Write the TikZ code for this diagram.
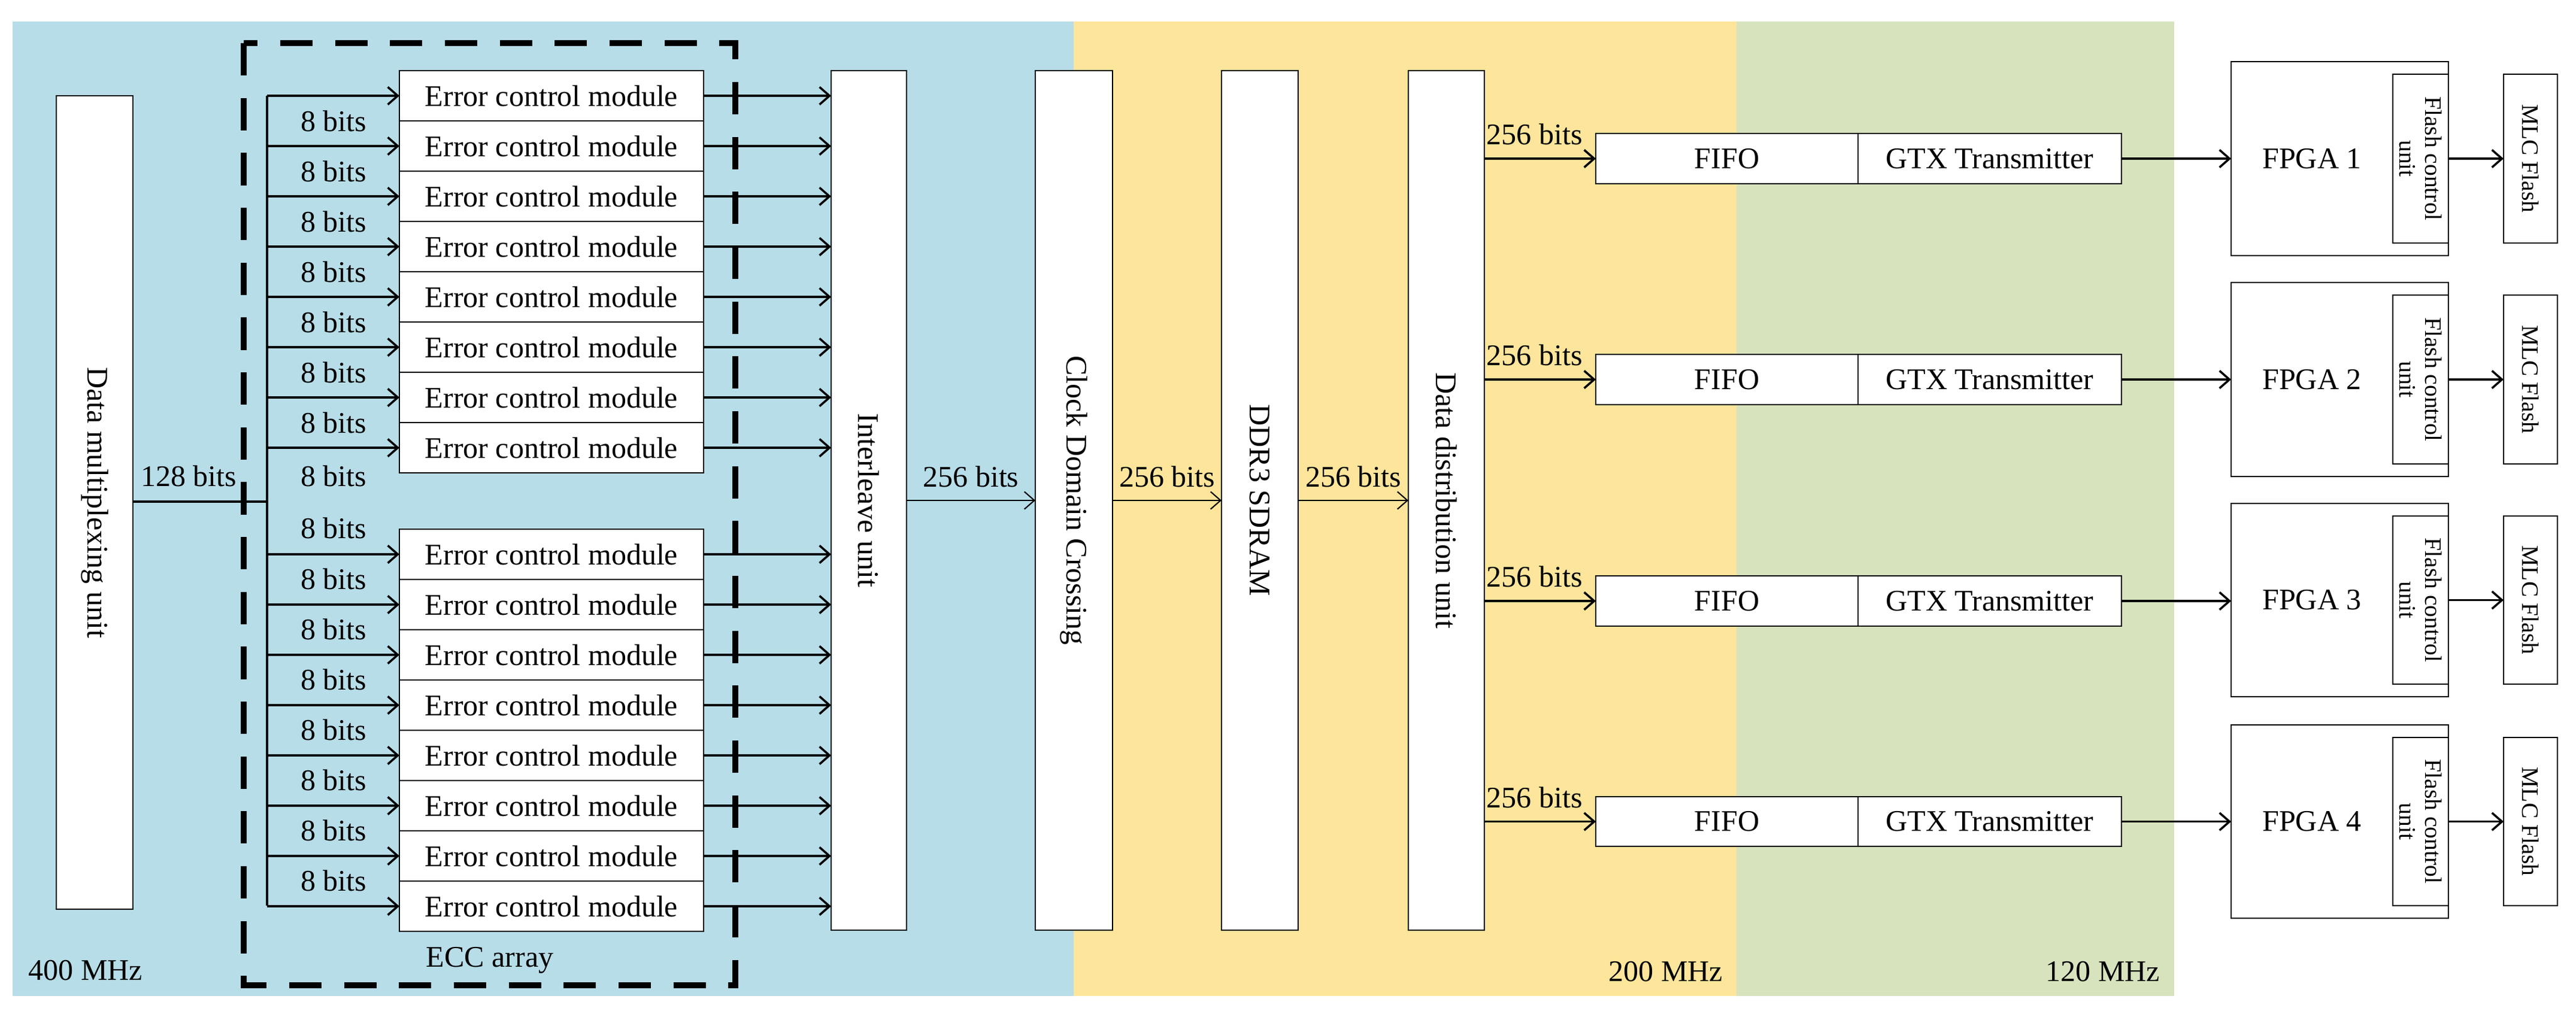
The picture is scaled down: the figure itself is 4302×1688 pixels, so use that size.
\documentclass[tikz,border=0pt]{standalone}
\usepackage{fontspec}
\setmainfont{Liberation Serif}
\usetikzlibrary{arrows.meta,calc}
\definecolor{bgblue}{RGB}{183,221,232}
\definecolor{bgyellow}{RGB}{253,229,155}
\definecolor{bggreen}{RGB}{214,227,189}
\tikzset{
  box/.style={draw,fill=white,line width=0.45pt,inner sep=0pt,outer sep=0pt},
  arr/.style={line width=0.85pt,-{Straight Barb[length=4pt,width=7pt,line width=0.85pt]}},
  arrthin/.style={line width=0.5pt,-{Straight Barb[length=4pt,width=7pt,line width=0.5pt]}},
  lbl/.style={inner sep=0pt},
  vtext/.style={rotate=-90},
}
\newcommand\bx[7][]{\node[box,#1,minimum width={(#4-#2)*0.24pt},minimum height={(#5-#3)*0.24pt}] (#7) at ({(#2+#4)/2},{(#3+#5)/2}) {#6};}
\begin{document}
\begin{tikzpicture}[x=0.24pt,y=-0.24pt,font=\fontsize{12}{14}\selectfont]
\useasboundingbox (0,0) rectangle (4302,1688);
\fill[white] (0,0) rectangle (4302,1688);
\fill[bgblue] (21,36) rectangle (1793,1664);
\fill[bgyellow] (1793,36) rectangle (2900,1664);
\fill[bggreen] (2900,36) rectangle (3631,1664);
% dashed ECC array
\draw[line width=2.2pt,dash pattern=on 13pt off 9pt] (407,72) rectangle (1228,1646);
\node[lbl] (ecc) at (818,1604) {ECC array};
\node[lbl] (f400) at (143,1621) {400 MHz};
\node[lbl] (f200) at (2782,1623) {200 MHz};
\node[lbl] (f120) at (3512,1623) {120 MHz};
% data multiplexing
\bx{94}{160}{222}{1519}{}{dmu}
\node[vtext] at (dmu) {Data multiplexing unit};
\coordinate (br) at (446,838);
\draw[line width=0.85pt] (dmu.east |- br) -- (br);
\draw[line width=0.85pt] (446,160) -- (446,1513);
\node[lbl] (l128) at (315,795) {128 bits};
% ECM modules
\foreach \k in {0,...,7}{
  \pgfmathsetmacro\ya{118+84*\k}\pgfmathsetmacro\yb{\ya+84}
  \bx{667}{\ya}{1175}{\yb}{Error control module}{ea\k}
  \draw[arr] (ea\k.west -| br) -- (ea\k.west);
  \pgfmathsetmacro\yc{884+84*\k}\pgfmathsetmacro\yd{\yc+84}
  \bx{667}{\yc}{1175}{\yd}{Error control module}{eb\k}
  \draw[arr] (eb\k.west -| br) -- (eb\k.west);
}
\foreach \k in {0,...,6}{
  \pgfmathsetmacro\ya{202+84*\k}
  \node[lbl] at (557,\ya) {8 bits};
  \pgfmathsetmacro\yb{967+84*\k}
  \node[lbl] at (557,\yb) {8 bits};
}
\node[lbl] at (557,795) {8 bits};
\node[lbl] at (557,882) {8 bits};
% interleave etc
\bx{1388}{118}{1514}{1554}{}{il}
\node[vtext] at (il) {Interleave unit};
\foreach \k in {0,...,7}{
  \draw[arr] (ea\k.east) -- (ea\k.east -| il.west);
  \draw[arr] (eb\k.east) -- (eb\k.east -| il.west);
}
\bx{1729}{118}{1858}{1554}{}{cdc}
\node[vtext] at (cdc) {Clock Domain Crossing};
\bx{2040}{118}{2168}{1554}{}{ddr}
\node[vtext] at (ddr) {DDR3 SDRAM};
\bx{2352}{118}{2479}{1554}{}{ddu}
\node[vtext] at (ddu) {Data distribution unit};
\draw[arrthin] (il) -- (cdc) node[midway,above=5pt,lbl] {256 bits};
\draw[arrthin] (cdc) -- (ddr) node[midway,above=5pt,lbl] {256 bits};
\draw[arrthin] (ddr) -- (ddu) node[midway,above=5pt,lbl] {256 bits};
% FIFO / GTX / FPGA / Flash
\foreach \k/\ya/\yb/\fa/\fb in {1/223/307/103/427, 2/592/676/472/796, 3/962/1046/841/1164, 4/1331/1414/1211/1534}{
  \bx{2665}{\ya}{3103}{\yb}{FIFO}{fifo\k}
  \bx{3103}{\ya}{3543}{\yb}{GTX Transmitter}{gtx\k}
  \bx{3726}{\fa}{4089}{\fb}{}{fpga\k}
  \pgfmathsetmacro\ia{\fa+21}\pgfmathsetmacro\ib{\fb-21}
  \bx{3996}{\ia}{4089}{\ib}{}{fcu\k}
  \bx{4181}{\ia}{4271}{\ib}{}{mlc\k}
  \node[lbl] at ($(fpga\k.west)!0.5!(fcu\k.west)$) {FPGA \k};
  \node[vtext,align=center,font=\fontsize{9.5}{10.5}\selectfont,inner sep=0pt] at (fcu\k) {Flash control\\unit};
  \node[vtext,font=\fontsize{9.5}{11}\selectfont] at (mlc\k) {MLC Flash};
  \draw[arr] (ddu.east |- fifo\k.west) -- (fifo\k.west) node[pos=0.45,above=5pt,lbl] {256 bits};
  \draw[arr] (gtx\k.east) -- (fpga\k.west |- gtx\k.east);
  \draw[arr] (fcu\k.east) -- (mlc\k.west);
}
\end{tikzpicture}
\end{document}
